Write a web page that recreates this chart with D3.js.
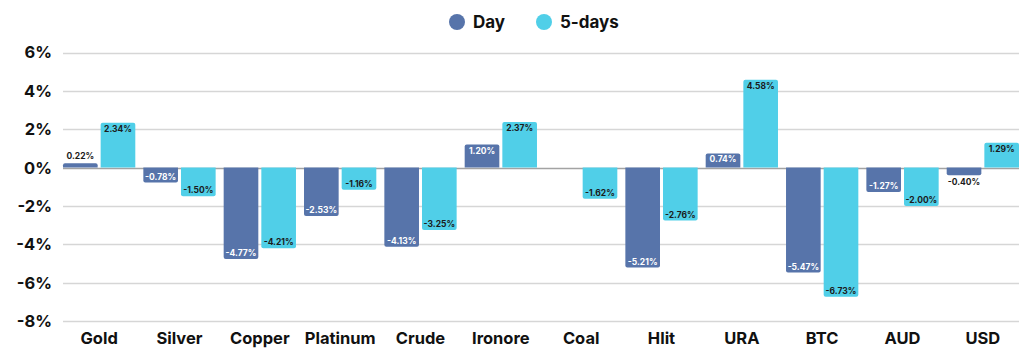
<!DOCTYPE html>
<html>
<head>
<meta charset="utf-8">
<script src="https://cdn.jsdelivr.net/npm/d3@7"></script>
<style>
  html, body { margin: 0; padding: 0; background: #fff; }
  svg { display: block; font-family: "Inter", "Open Sans", sans-serif; }
</style>
</head>
<body>
<div id="chart"></div>
<script>
// chart data
let categories = ['Gold', 'Silver', 'Copper', 'Platinum', 'Crude', 'Ironore', 'Coal', 'Hlit', 'URA', 'BTC', 'AUD', 'USD'];
let dayValues = [0.22, -0.78, -4.77, -2.53, -4.13, 1.20, null, -5.21, 0.74, -5.47, -1.27, -0.40];
let fiveDayValues = [2.34, -1.50, -4.21, -1.16, -3.25, 2.37, -1.62, -2.76, 4.58, -6.73, -2.00, 1.29];
let seriesNames = ['Day', '5-days'];
let yTicks = [6, 4, 2, 0, -2, -4, -6, -8];

let width = 1024, height = 352;
let margin = { top: 52, right: 5, bottom: 31, left: 63 };
let colors = { 'Day': '#5774aa', '5-days': '#50cfe8' };
let labelColors = { 'Day': '#ffffff', '5-days': '#1b1b1b' };

let svg = d3.select('#chart').append('svg')
    .attr('width', width)
    .attr('height', height);

let y = d3.scaleLinear()
    .domain([-8, 6])
    .range([height - margin.bottom, margin.top + 0.5]);

let x0 = d3.scaleBand()
    .domain(categories)
    .range([margin.left, width - margin.right])
    .paddingInner(0.1)
    .paddingOuter(0.0);

let x1 = d3.scaleBand()
    .domain(seriesNames)
    .range([0, x0.bandwidth()])
    .paddingInner(0.08);

// gridlines
svg.append('g')
    .selectAll('line')
    .data(yTicks)
    .join('line')
    .attr('x1', margin.left)
    .attr('x2', width - margin.right)
    .attr('y1', d => Math.round(y(d)) + 0.5)
    .attr('y2', d => Math.round(y(d)) + 0.5)
    .attr('stroke', d => d === 0 ? '#a3a3a3' : '#d6d6d6')
    .attr('stroke-width', 1.5);

// y axis labels
svg.append('g')
    .selectAll('text')
    .data(yTicks)
    .join('text')
    .attr('x', 52)
    .attr('y', d => y(d))
    .attr('dy', '0.36em')
    .attr('text-anchor', 'end')
    .attr('font-size', 16.5)
    .attr('font-weight', 700)
    .attr('fill', '#111')
    .text(d => d + '%');

// category labels
svg.append('g')
    .selectAll('text')
    .data(categories)
    .join('text')
    .attr('x', d => x0(d) + x0.bandwidth() / 2)
    .attr('y', 344)
    .attr('text-anchor', 'middle')
    .attr('font-size', 16.5)
    .attr('font-weight', 700)
    .attr('fill', '#111')
    .text(d => d);

// flatten bars
let bars = [];
categories.forEach((c, i) => {
    if (dayValues[i] !== null) bars.push({ cat: c, series: 'Day', value: dayValues[i] });
    if (fiveDayValues[i] !== null) bars.push({ cat: c, series: '5-days', value: fiveDayValues[i] });
});

// bar path with rounded outer end
function barPath(d) {
    let bx = x0(d.cat) + x1(d.series);
    let w = x1.bandwidth();
    let y0 = y(0);
    let y1 = y(d.value);
    let r = Math.min(2, Math.abs(y1 - y0));
    let s = d.value >= 0 ? 1 : -1;
    let p = d3.path();
    p.moveTo(bx, y0);
    p.lineTo(bx, y1 + s * r);
    p.quadraticCurveTo(bx, y1, bx + r, y1);
    p.lineTo(bx + w - r, y1);
    p.quadraticCurveTo(bx + w, y1, bx + w, y1 + s * r);
    p.lineTo(bx + w, y0);
    p.closePath();
    return p.toString();
}

svg.append('g')
    .selectAll('path')
    .data(bars)
    .join('path')
    .attr('d', barPath)
    .attr('fill', d => colors[d.series]);

// value labels
svg.append('g')
    .selectAll('text')
    .data(bars)
    .join('text')
    .attr('x', d => x0(d.cat) + x1(d.series) + x1.bandwidth() / 2)
    .attr('y', d => {
        let h = Math.abs(y(d.value) - y(0));
        let inside = h > 12;
        if (d.value >= 0) return inside ? y(d.value) + 6 : y(d.value) - 7;
        return inside ? y(d.value) - 6 : y(d.value) + 7;
    })
    .attr('dy', '0.36em')
    .attr('text-anchor', 'middle')
    .attr('font-size', 8.5)
    .attr('font-weight', 700)
    .attr('fill', d => {
        let h = Math.abs(y(d.value) - y(0));
        return h > 12 ? labelColors[d.series] : '#1b1b1b';
    })
    .text(d => d.value.toFixed(2) + '%');

// legend
let legend = svg.append('g');
let legendItems = [{ name: 'Day', x: 457 }, { name: '5-days', x: 544 }];
legend.selectAll('circle')
    .data(legendItems)
    .join('circle')
    .attr('cx', d => d.x)
    .attr('cy', 22)
    .attr('r', 8)
    .attr('fill', d => colors[d.name]);
legend.selectAll('text')
    .data(legendItems)
    .join('text')
    .attr('x', d => d.x + 16)
    .attr('y', 22)
    .attr('dy', '0.36em')
    .attr('font-size', 17)
    .attr('font-weight', 700)
    .attr('fill', '#111')
    .text(d => d.name);
</script>
</body>
</html>
